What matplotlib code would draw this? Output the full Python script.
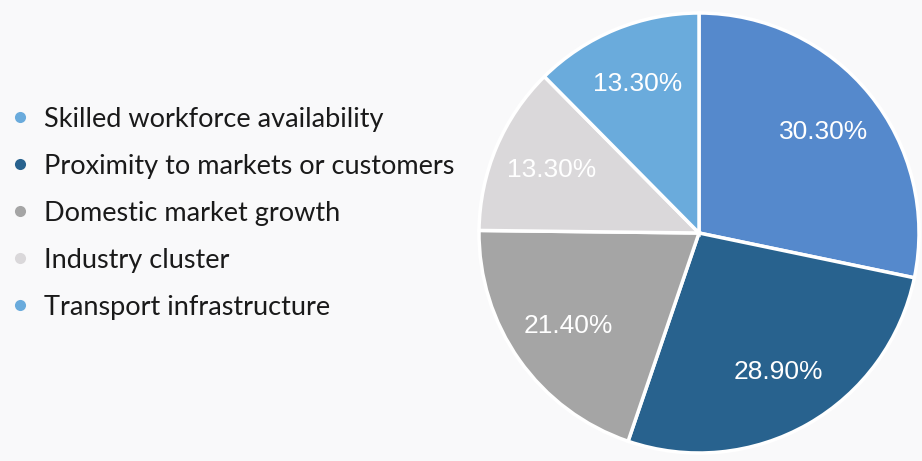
import numpy as np
import matplotlib
matplotlib.use("Agg")
import matplotlib.pyplot as plt
from matplotlib.lines import Line2D

# Shares of respondents per location factor (values as reported, not normalised)
categories = [
    "Skilled workforce availability",
    "Proximity to markets or customers",
    "Domestic market growth",
    "Industry cluster",
    "Transport infrastructure",
]
shares = [30.3, 28.9, 21.4, 13.3, 13.3]

slice_colors = ["#5589cc", "#28628e", "#a5a5a5", "#dad8da", "#6aabdc"]
marker_colors = ["#6aabdc", "#28628e", "#a5a5a5", "#dad8da", "#6aabdc"]

W, H, DPI = 922, 461, 100
BG = "#f9f9fa"

fig = plt.figure(figsize=(W / DPI, H / DPI), dpi=DPI, facecolor=BG)

# pie centre and radius in pixels
cx, cy, R = 699, 233, 220
ax = fig.add_axes([(cx - R) / W, (H - cy - R) / H, 2 * R / W, 2 * R / H])
ax.set_facecolor("none")

wedges, _ = ax.pie(
    shares, colors=slice_colors, startangle=90, counterclock=False,
    radius=1.0, wedgeprops=dict(edgecolor="white", linewidth=2.5),
)
ax.set_xlim(-1, 1)
ax.set_ylim(-1, 1)
ax.set_aspect("equal")
ax.axis("off")

# value labels at the middle of each wedge
for w, val in zip(wedges, shares):
    mid = np.deg2rad((w.theta1 + w.theta2) / 2)
    r = 0.73
    ax.text(r * np.cos(mid), r * np.sin(mid), f"{val:.2f}%",
            ha="center", va="center", color="white", fontsize=19,
            family="Liberation Sans")

handles = [Line2D([], [], marker="o", linestyle="none", markersize=8,
                  markerfacecolor=c, markeredgecolor="none")
           for c in marker_colors]
leg = fig.legend(handles, categories, loc="upper left",
                 bbox_to_anchor=(6 / W, 0.768), borderpad=0, borderaxespad=0,
                 frameon=False, prop=dict(family="Lato", size=19.5),
                 labelspacing=0.81, handletextpad=0.42, handlelength=1.0,
                 labelcolor="#1a1a1a")

fig.savefig("out.png", dpi=DPI, facecolor=BG)
